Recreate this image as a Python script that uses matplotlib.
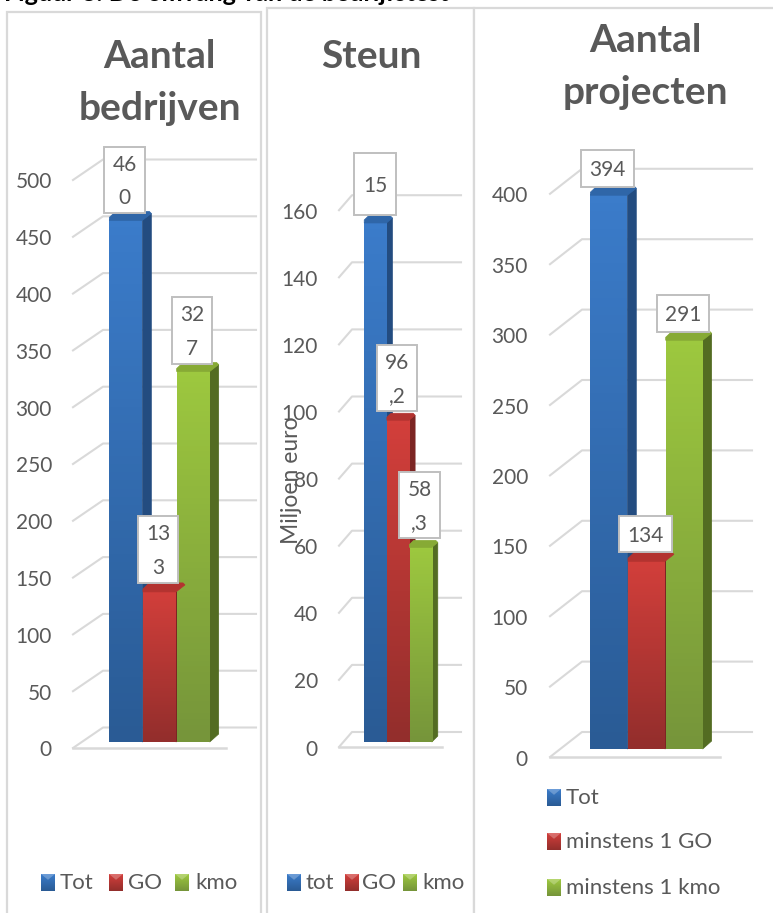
import numpy as np
import matplotlib
matplotlib.use('Agg')
import matplotlib.pyplot as plt
from matplotlib.colors import LinearSegmentedColormap
from matplotlib.lines import Line2D
from matplotlib.patches import Polygon, Rectangle
from matplotlib.transforms import IdentityTransform

plt.rcParams['font.family'] = ['Lato', 'DejaVu Sans']

W, H = 773, 913
GREY = '#595959'
GRID = '#d9d9d9'

bedrijven_values = [460, 133, 327]
steun_values = [155, 96.2, 58.3]
projecten_values = [394, 134, 291]

bedrijven_ticks = [0, 50, 100, 150, 200, 250, 300, 350, 400, 450, 500]
steun_ticks = [0, 20, 40, 60, 80, 100, 120, 140, 160]
projecten_ticks = [0, 50, 100, 150, 200, 250, 300, 350, 400]

bedrijven_labels = ['46\n0', '13\n3', '32\n7']
steun_labels = ['15', '96\n,2', '58\n,3']
projecten_labels = ['394', '134', '291']

# front colour top/bottom, side colour, top colour
blue = ('#3b7cca', '#2a5b95', '#234c80', '#2f66a8')
red = ('#d23f3b', '#932e2c', '#7c2523', '#b33330')
green = ('#9dc83f', '#76953a', '#536c22', '#87aa35')
colours = [blue, red, green]

fig = plt.figure(figsize=(W / 100, H / 100), dpi=100)
fig.patch.set_facecolor('white')


def fx(x):
    return x / W


def fy(y):
    return 1 - y / H


def frame(x0, y0, x1, y1):
    fig.add_artist(Rectangle((fx(x0), fy(y1)), (x1 - x0) / W, (y1 - y0) / H, transform=fig.transFigure,
                             fc='white', ec='#d9d9d9', lw=1.6, zorder=-5))


def label_box(x0, y0, x1, y1, text):
    fig.add_artist(Rectangle((fx(x0), fy(y1)), (x1 - x0) / W, (y1 - y0) / H, transform=fig.transFigure,
                             fc='white', ec='#bfbfbf', lw=1.4, zorder=20))
    lines = text.split('\n')
    step = (y1 - y0) / len(lines)
    for i, line in enumerate(lines):
        fig.text(fx((x0 + x1) / 2), fy(y0 + step * (i + 0.5) + 1.5), line, ha='center', va='center',
                 fontsize=15, color=GREY, zorder=21)


def legend_mark(x, y, c):
    ax = fig.add_axes([fx(x), fy(y + 8), 14 / W, 17 / H], zorder=6)
    ax.axis('off')
    grad = LinearSegmentedColormap.from_list('g', [c[0], c[1]])
    ax.imshow(np.linspace(0, 1, 16).reshape(-1, 1), cmap=grad, aspect='auto')
    ax.add_patch(Polygon([(-0.5, -0.5), (0.5, -0.5), (0, 5)], fc='white', alpha=0.25, ec='none'))


def chart(left, right, base, top_v, top_y, values, ticks, colors, back, front_x, grid_right,
          floor_right, tick_right, dx, dy):
    # axes covers the bars only, y=0 is the front foot of the bars
    ax = fig.add_axes([fx(left), fy(base), (right - left) / W, (base - top_y) / H], zorder=3)
    ax.set_xlim(-0.5, len(values) - 0.5)
    ax.set_ylim(0, top_v)
    ax.axis('off')
    disp = IdentityTransform()

    def to_disp(x, v):
        return ax.transData.transform((x, v))

    for t in ticks:
        p = to_disp(-0.5, t)
        # side wall line and back wall gridline
        y_back = p[1] + back[1]
        y_front = p[1] - back[2]
        fig.add_artist(Line2D([front_x, back[0], grid_right], [y_front, y_back, y_back], transform=disp,
                              color=GRID, lw=1.5, zorder=1))
        fig.text(fx(tick_right), (y_front - 2.5) / H, str(t), ha='right', va='center', fontsize=15, color=GREY,
                 zorder=2)
        if t == 0:
            fig.add_artist(Line2D([front_x, floor_right], [y_front, y_front], transform=disp,
                                  color=GRID, lw=1.8, zorder=1))

    bars = ax.bar(range(len(values)), values, width=0.98, color=[c[1] for c in colors], zorder=3)
    for i, (rect, c) in enumerate(zip(bars, colors)):
        v = values[i]
        x0, x1 = rect.get_x(), rect.get_x() + rect.get_width()
        grad = LinearSegmentedColormap.from_list('g', [c[0], c[1]])
        im = ax.imshow(np.linspace(0, 1, 64).reshape(-1, 1), cmap=grad, aspect='auto',
                       extent=[x0, x1, 0, v], zorder=4)
        im.set_clip_path(rect)
        a, b = to_disp(x0, v), to_disp(x1, v)
        foot = to_disp(x1, 0)
        # side face first, the neighbour bar hides most of it
        fig.add_artist(Polygon([b, b + (dx, dy - 2), foot + (dx, dy), foot], closed=True, transform=disp, fc=c[2],
                               ec=c[2], lw=0.5, zorder=2.5))
        # top face with cut corners so it looks rounded
        fig.add_artist(Polygon([a + (0, -1), b + (0, -1), b + (dx, dy - 2), b + (dx - 2, dy),
                                a + (dx * 0.7, dy), a + (0, 2)], closed=True, transform=disp, fc=c[3],
                               ec=c[3], lw=0.5, zorder=5))
    ax.set_xlim(-0.5, len(values) - 0.5)
    ax.set_ylim(0, top_v)
    return ax


frame(7, 12, 261, 930)
frame(267, 8, 474, 930)
frame(474, 8, 790, 930)

# caption above the charts is cut off by the top edge in the original
fig.text(fx(4), fy(1), 'Figuur 8: De omvang van de bedrijfstest', ha='left', va='baseline', fontsize=18,
         fontweight='bold', color='black', zorder=30)

# px values of one tick in each panel give the y scale
chart(109, 210, 742, 500, 742 - 500 * 1.136, bedrijven_values, bedrijven_ticks, colours,
      back=(103, 14.5, 6), front_x=73, grid_right=256, floor_right=226, tick_right=52, dx=9, dy=8)
chart(364, 432, 742, 160, 742 - 160 * 3.355, steun_values, steun_ticks, colours,
      back=(352, 10, 5), front_x=339, grid_right=461, floor_right=442, tick_right=318, dx=6, dy=6)
chart(590, 703, 749, 400, 749 - 400 * 1.408, projecten_values, projecten_ticks, colours,
      back=(582, 17, 8), front_x=550, grid_right=752, floor_right=720, tick_right=528, dx=9, dy=8)

label_box(104, 147, 145, 213, bedrijven_labels[0])
label_box(138, 516, 178, 583, bedrijven_labels[1])
label_box(172, 297, 212, 364, bedrijven_labels[2])
label_box(354, 153, 396, 215, steun_labels[0])
label_box(377, 345, 417, 411, steun_labels[1])
label_box(399, 472, 440, 538, steun_labels[2])
label_box(581, 150, 634, 187, projecten_labels[0])
label_box(619, 516, 672, 552, projecten_labels[1])
label_box(657, 295, 709, 332, projecten_labels[2])

title_kw = dict(ha='center', va='center', fontsize=28, fontweight='bold', color=GREY, zorder=10)
fig.text(fx(159), fy(56), 'Aantal', **title_kw)
fig.text(fx(160), fy(108), 'bedrijven', **title_kw)
fig.text(fx(371), fy(56), 'Steun', **title_kw)
fig.text(fx(645), fy(40), 'Aantal', **title_kw)
fig.text(fx(645), fy(93), 'projecten', **title_kw)

fig.text(fx(292), fy(480), 'Miljoen euro', rotation=90, ha='center', va='center', fontsize=16.5, color=GREY, zorder=10)

legend_kw = dict(ha='left', va='center', fontsize=16, color=GREY, zorder=10)
for x, tx, y, c, name in [
    (41, 60, 883, blue, 'Tot'), (109, 128, 883, red, 'GO'), (175, 195, 883, green, 'kmo'),
    (287, 306, 883, blue, 'tot'), (345, 362, 883, red, 'GO'), (403, 422, 883, green, 'kmo'),
    (547, 566, 798, blue, 'Tot'), (547, 566, 842, red, 'minstens 1 GO'), (547, 566, 888, green, 'minstens 1 kmo'),
]:
    legend_mark(x, y, c)
    fig.text(fx(tx), fy(y), name, **legend_kw)

fig.savefig('out.png', dpi=100, facecolor='white')
